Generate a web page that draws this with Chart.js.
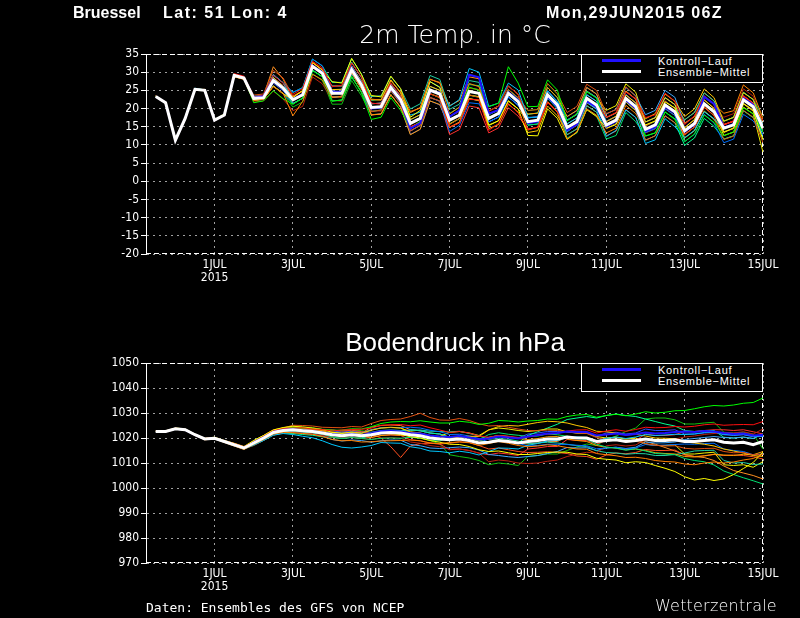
<!DOCTYPE html>
<html lang="de">
<head>
<meta charset="utf-8">
<title>Bruessel - Ensembles des GFS</title>
<script src="https://cdn.jsdelivr.net/npm/chart.js@4.4.1/dist/chart.umd.min.js"></script>
<style>
  html, body { margin: 0; padding: 0; background: #000; }
  #page { position: relative; width: 800px; height: 618px; overflow: hidden; background: #000; }
  canvas { position: absolute; left: 0; }
  .txt { position: absolute; white-space: pre; color: #fff; }
  .head { top: 5px; font: bold 16px 'Liberation Sans', Arial, sans-serif; line-height: 16px; }
  .title { left: 255px; width: 400px; text-align: center; }
  .legend { position: absolute; left: 581px; width: 180px; height: 27px; border: 1px solid #fff; background: #000; }
  .legend .bar { position: absolute; left: 20px; width: 39px; height: 3px; }
  .legend .lbl { position: absolute; left: 76px; color: #fff; font: 11px 'Liberation Sans', Arial, sans-serif; line-height: 11px; letter-spacing: 0.7px; white-space: pre; }
</style>
</head>
<body>
<div id="page">
  <canvas id="tempChart" width="800" height="300" style="top:0"></canvas>
  <canvas id="pressChart" width="800" height="300" style="top:309px"></canvas>

  <div class="txt head" style="left:73px">Bruessel</div>
  <div class="txt head" style="left:163px; letter-spacing:1.5px">Lat: 51 Lon: 4</div>
  <div class="txt head" style="left:546px; letter-spacing:1.3px">Mon,29JUN2015 06Z</div>

  <div class="txt title" style="top:22px; font:200 25px 'DejaVu Sans', sans-serif; line-height:25px">2m Temp. in °C</div>
  <div class="txt title" style="top:329px; font:26px 'Liberation Sans', Arial, sans-serif; line-height:26px">Bodendruck in hPa</div>

  <div class="legend" style="top:54px">
    <div class="bar" style="top:4px; background:#2010ff"></div><div class="lbl" style="top:1px">Kontroll−Lauf</div>
    <div class="bar" style="top:15px; background:#fff"></div><div class="lbl" style="top:12px">Ensemble−Mittel</div>
  </div>
  <div class="legend" style="top:363px">
    <div class="bar" style="top:4px; background:#2010ff"></div><div class="lbl" style="top:1px">Kontroll−Lauf</div>
    <div class="bar" style="top:15px; background:#fff"></div><div class="lbl" style="top:12px">Ensemble−Mittel</div>
  </div>

  <div class="txt" style="left:146px; top:601px; font:13px 'DejaVu Sans Mono', monospace; line-height:13px">Daten: Ensembles des GFS von NCEP</div>
  <div class="txt" style="left:655px; top:598px; font:200 16px 'DejaVu Sans', sans-serif; line-height:16px; letter-spacing:0.2px">Wetterzentrale</div>
</div>

<script>
// forecast lead time in hours after the 29JUN2015 06Z run
const leadHours = [6,12,18,24,30,36,42,48,54,60,66,72,78,84,90,96,102,108,114,120,126,132,138,144,150,156,162,168,174,180,186,192,198,204,210,216,222,228,234,240,246,252,258,264,270,276,282,288,294,300,306,312,318,324,330,336,342,348,354,360,366,372,378];

// x axis ticks (lead hours of 00Z on every second day)
const dayTicks = [42, 90, 138, 186, 234, 282, 330, 378];
const dayLabels = ['1JUL', '3JUL', '5JUL', '7JUL', '9JUL', '11JUL', '13JUL', '15JUL'];
const yearLabel = '2015';

// ---- 2m temperature (°C) ----
const tempMean = [23.3,21.6,11.3,17.3,25.3,25.0,16.8,18.2,29.1,28.4, 22.8,23.0,27.7,25.6, 22.4,23.8,31.6,29.7, 24.2,24.2,30.7,26.5, 20.3,20.5,25.8,22.4, 15.9,17.3,25.1,24.0, 16.8,18.2,24.7,24.2, 17.3,18.7,24.2,21.9, 16.4,16.8,23.8,21.0, 14.8,16.4,22.8,21.0, 15.5,16.8,22.8,20.5, 14.3,15.5,21.0,19.1, 13.9,15.9,21.3,19.1, 14.6,15.5,22.4,20.5, 14.6];
const tempControl = [23.3,21.6,11.3,17.3,25.3,25.0,16.8,18.2,29.1,28.4, 23.0,23.4,28.0,25.8, 22.6,24.0,31.8,30.0, 24.6,24.6,31.2,26.9, 20.0,20.2,25.5,22.0, 14.5,16.0,24.8,24.4, 17.8,19.5,29.3,28.6, 18.6,19.6,24.5,22.3, 16.0,16.4,23.2,20.4, 14.0,15.6,22.0,20.4, 15.0,16.5,22.3,20.0, 13.8,15.0,20.5,18.8, 13.6,15.6,23.2,21.3, 14.8,15.8,22.8,21.0, 14.8];

const t01 = [23.5,21.8,11.0,17.5,25.5,24.8,16.6,18.4,29.6,28.9, 23.3,23.6,29.2,27.0, 23.9,25.5,33.0,31.2, 26.0,26.4,32.5,28.7, 21.5,21.2,27.0,23.6, 15.0,16.1,24.0,23.2, 14.9,16.0,22.5,22.4, 14.0,15.9,21.4,18.8, 14.2,14.9,21.6,19.2, 14.6,16.0,23.1,21.3, 17.6,18.9,24.5,22.7, 17.5,18.3,24.2,22.0, 15.6,18.0,23.5,21.0, 15.4,16.7,23.6,21.3, 14.4];
const t02 = [23.1,21.4,11.6,17.0,25.0,25.3,17.0,18.0,28.8,28.0, 22.2,22.6,26.0,24.2, 18.0,22.0,29.4,27.9, 23.0,23.4,29.9,25.3, 22.6,22.3,27.6,24.6, 19.2,20.1,28.0,27.2, 18.5,20.4,26.9,26.0, 17.6,18.5,24.5,21.7, 14.1,14.9,21.9,19.0, 11.6,13.6,19.9,18.2, 13.3,14.6,20.9,18.6, 14.6,15.3,21.2,19.3, 16.0,17.7,23.4,21.2, 18.7,19.4,26.5,24.3, 17.3];
const t03 = [23.3,21.7,11.2,17.4,25.4,25.2,16.9,18.5,29.4,28.2, 22.5,23.3,28.5,26.1, 23.0,25.0,32.7,30.5, 27.4,27.0,33.8,29.4, 23.6,23.2,28.9,25.5, 17.6,19.5,27.4,25.8, 16.5,18.4,25.0,24.0, 15.5,16.6,22.0,19.9, 12.6,12.5,19.9,17.3, 11.5,13.5,19.7,17.8, 14.6,15.6,21.9,19.4, 15.5,16.6,21.8,20.2, 14.7,17.0,22.4,20.0, 13.4,14.7,21.3,19.3, 11.4];
const t04 = [23.2,21.5,11.4,17.2,25.3,24.9,16.7,18.1,28.9,28.3, 21.6,22.1,24.9,22.7, 21.2,22.9,30.5,28.8, 22.0,22.4,28.9,24.3, 17.0,17.6,23.0,19.5, 14.6,16.5,24.0,23.2, 17.7,19.4,25.9,25.0, 20.5,21.5,31.5,27.0, 20.5,20.6,27.9,25.1, 16.6,18.6,24.6,22.9, 15.2,17.0,22.6,20.7, 12.5,13.3,19.1,17.0, 10.9,13.0,18.2,16.2, 12.5,13.6,20.2,18.6, 13.5];
const t05 = [23.4,21.6,11.3,17.6,25.6,25.1,16.8,18.3,29.3,28.6, 23.4,23.5,29.4,27.0, 22.5,23.6,31.9,29.5, 23.0,23.4,29.5,25.6, 20.0,20.8,25.5,22.6, 18.2,19.0,27.4,25.9, 20.6,22.5,31.0,30.0, 20.6,21.5,27.0,25.1, 17.6,17.6,24.9,21.8, 13.6,15.6,21.7,19.8, 12.3,14.0,19.6,17.6, 10.4,11.4,17.2,15.0, 12.0,14.0,19.1,17.2, 14.5,15.7,22.2,20.6, 15.6];
const t06 = [23.2,21.6,11.5,17.2,25.2,25.1,16.9,18.0,29.0,28.6, 23.7,24.0,30.5,28.4, 23.4,24.7,32.8,30.6, 24.4,24.0,30.9,26.2, 19.1,19.6,24.9,21.3, 13.8,15.5,23.0,22.1, 15.6,17.3,23.8,23.0, 18.5,19.6,25.2,23.0, 19.5,19.7,26.9,24.1, 18.9,20.6,26.7,25.0, 18.6,19.7,26.0,23.4, 15.2,16.6,22.1,20.0, 12.7,14.9,20.5,18.0, 11.5,12.4,19.5,17.6, 10.6];
const t07 = [23.4,21.7,11.1,17.3,25.1,25.0,16.9,18.3,28.7,28.1, 22.3,22.6,26.2,24.0, 22.5,23.6,31.4,29.8, 25.2,25.3,31.6,27.4, 22.4,22.4,27.9,24.3, 17.0,18.3,26.1,25.0, 15.7,17.3,23.6,23.3, 14.5,15.6,21.2,19.0, 13.4,13.9,20.7,18.0, 13.8,15.5,21.6,20.0, 16.4,17.9,23.7,21.6, 17.2,18.6,24.0,22.0, 17.8,19.9,25.4,23.0, 16.5,17.6,24.4,22.5, 15.6];
const t08 = [23.3,21.5,11.2,17.4,25.4,24.9,16.7,18.2,29.2,28.3, 22.7,23.1,27.4,25.4, 21.2,22.9,30.4,28.8, 22.1,22.3,28.6,24.6, 19.2,19.6,24.9,21.3, 15.7,17.4,25.0,24.1, 18.7,20.3,26.6,26.3, 18.4,19.5,25.2,22.8, 15.5,15.7,22.9,19.9, 11.9,13.3,19.8,18.0, 11.6,12.6,18.9,16.4, 12.4,13.3,19.0,17.2, 13.8,15.9,21.2,19.0, 16.5,17.6,24.5,22.4, 17.6];
const t09 = [23.3,21.6,11.3,17.3,25.3,25.0,16.8,18.2,29.1,28.5, 23.2,23.5,29.2,27.1, 24.5,25.7,33.6,31.8, 25.1,25.3,31.8,27.4, 20.4,20.3,25.9,22.5, 13.8,15.4,23.0,22.0, 13.7,15.4,21.6,21.3, 16.4,17.6,23.2,20.9, 17.4,17.8,24.9,22.0, 16.9,18.4,24.7,23.1, 16.5,17.8,23.9,21.5, 13.4,14.5,19.9,18.1, 10.9,12.9,18.4,16.0, 10.6,11.6,18.4,16.6, 12.6];
const t10 = [23.2,21.4,11.0,17.1,25.2,25.0,16.6,18.1,29.3,28.2, 21.8,22.1,24.8,22.6, 19.4,20.6,28.7,26.8, 22.3,22.0,28.8,24.6, 19.4,19.3,24.8,21.5, 15.8,17.4,25.1,24.0, 17.9,19.2,25.6,25.2, 19.4,20.6,26.2,23.9, 17.5,17.7,24.8,21.9, 14.8,16.5,22.7,21.1, 14.4,15.8,21.9,19.5, 13.3,14.4,20.1,18.1, 14.8,16.9,22.3,20.2, 17.6,18.6,25.4,23.4, 16.6];
const t11 = [23.4,21.7,11.4,17.4,25.2,25.1,16.9,18.2,29.5,28.6, 22.9,23.0,27.9,25.8, 23.3,24.9,32.6,30.7, 24.0,24.4,30.6,26.6, 18.2,18.5,23.8,20.3, 12.8,14.3,22.1,21.1, 14.9,16.2,22.7,22.3, 17.3,18.7,24.2,21.8, 18.5,18.7,25.8,23.0, 17.8,19.5,25.8,24.0, 17.5,18.8,24.8,22.6, 14.3,15.4,21.0,19.1, 11.9,13.9,19.3,17.0, 13.6,14.5,21.4,19.6, 14.6];
const t12 = [23.3,21.6,11.4,17.3,25.4,25.1,16.8,18.2,28.9,28.3, 23.2,23.5,29.2,27.1, 22.4,23.9,31.6,29.8, 26.2,26.2,32.7,28.5, 23.3,23.5,28.8,25.4, 19.9,21.3,29.1,28.0, 19.8,21.2,27.7,27.2, 18.3,19.7,25.2,22.9, 15.4,15.8,22.8,20.0, 12.8,14.4,20.8,19.0, 14.5,15.8,21.8,19.5, 15.3,16.5,22.0,20.1, 16.9,18.9,24.3,22.1, 16.6,17.5,24.4,22.5, 13.6];
const t13 = [23.3,21.6,11.2,17.2,25.3,25.0,16.8,18.3,29.1,28.4, 22.3,22.5,26.2,24.1, 21.4,22.8,30.6,28.7, 24.2,24.2,30.7,26.5, 21.3,21.5,26.8,23.4, 16.9,18.3,26.1,25.0, 16.8,18.2,24.7,24.2, 16.3,17.7,23.2,20.9, 16.4,16.8,23.8,21.0, 15.8,17.4,23.8,22.0, 18.5,19.8,25.8,23.5, 18.3,19.5,25.0,23.1, 15.9,17.9,23.3,21.1, 13.6,14.5,21.4,19.5, 12.6];
const t14 = [23.2,21.6,11.5,17.4,25.3,25.1,16.7,18.3,29.2,28.5, 23.0,23.3,28.5,26.3, 23.4,24.8,32.6,30.7, 23.2,23.2,29.7,25.5, 18.3,18.5,23.8,20.4, 14.9,16.3,24.1,23.0, 17.8,19.2,25.7,25.2, 19.3,20.7,26.2,23.9, 16.4,16.8,23.8,21.0, 12.8,14.4,20.8,19.0, 12.5,13.8,19.8,17.5, 11.3,12.5,18.0,16.1, 12.9,14.9,20.3,18.1, 15.6,16.5,23.4,21.5, 16.6];
const t15 = [23.4,21.5,11.2,17.3,25.2,25.1,16.9,18.1,29.0,28.3, 22.3,22.5,26.2,24.1, 22.4,23.8,31.6,29.7, 25.2,25.2,31.7,27.5, 20.3,20.5,25.8,22.4, 14.9,16.3,24.1,23.0, 14.8,16.2,22.7,22.2, 15.3,16.7,22.2,19.9, 16.4,16.8,23.8,21.0, 16.8,18.4,24.8,23.0, 19.5,20.8,26.8,24.5, 16.3,17.5,23.0,21.1, 13.9,15.9,21.3,19.1, 12.6,13.5,20.4,18.5, 8.0];
const t16 = [23.2,21.7,11.4,17.4,25.4,24.9,16.7,18.3,29.3,28.6, 23.2,23.5,29.2,27.1, 24.4,25.8,33.6,31.7, 27.2,27.2,33.7,29.5, 22.3,22.5,27.8,24.4, 15.9,17.3,25.1,24.0, 15.8,17.2,23.7,23.2, 17.3,18.7,24.2,21.9, 18.4,18.8,25.8,23.0, 15.8,17.4,23.8,22.0, 14.5,15.8,21.8,19.5, 11.3,12.5,18.0,16.1, 9.9,11.9,17.3,15.1, 11.6,12.5,19.4,17.5, 12.6];
const t17 = [23.3,21.5,11.4,17.2,25.2,24.9,16.9,18.1,28.8,28.2, 22.6,22.8,27.0,24.9, 21.4,22.8,30.6,28.7, 22.2,22.2,28.7,24.5, 18.3,18.5,23.8,20.4, 12.9,14.3,22.1,21.0, 14.8,16.2,22.7,22.2, 16.3,17.7,23.2,20.9, 17.4,17.8,24.8,22.0, 17.8,19.4,25.8,24.0, 17.5,18.8,24.8,22.5, 16.3,17.5,23.0,21.1, 14.9,16.9,22.3,20.1, 14.6,15.5,22.4,20.5, 13.6];
const t18 = [23.2,21.7,11.2,17.4,25.4,25.1,16.7,18.3,29.4,28.7, 22.8,23.0,27.7,25.6, 23.4,24.8,32.6,30.7, 26.2,26.2,32.7,28.5, 20.3,20.5,25.8,22.4, 13.9,15.3,23.1,22.0, 12.8,14.2,20.7,20.2, 13.3,14.7,20.2,17.9, 14.4,14.8,21.8,19.0, 14.8,16.4,22.8,21.0, 16.5,17.8,23.8,21.5, 14.3,15.5,21.0,19.1, 12.9,14.9,20.3,18.1, 15.6,16.5,23.4,21.5, 16.6];
const t19 = [23.4,21.6,11.5,17.3,25.1,25.2,16.8,18.2,29.2,28.5, 23.3,23.5,31.5,28.1, 22.4,23.8,31.6,29.7, 23.2,23.2,29.7,25.5, 21.3,21.5,26.8,23.4, 18.9,20.3,28.1,27.0, 20.8,22.2,28.7,28.2, 19.3,20.7,26.2,23.9, 16.4,16.8,23.8,21.0, 13.8,15.4,21.8,20.0, 15.5,16.8,22.8,20.5, 16.3,17.5,23.0,21.1, 16.9,18.9,24.3,22.1, 15.6,16.5,23.4,21.5, 13.6];
const t20 = [23.3,21.5,11.1,17.2,25.5,24.8,17.0,18.4,28.9,28.1, 22.3,22.5,26.2,24.1, 20.4,21.8,29.6,27.7, 21.2,21.2,27.7,23.5, 18.3,18.5,23.8,20.4, 13.9,15.3,23.1,22.0, 15.8,17.2,23.7,23.2, 18.3,19.7,25.2,22.9, 19.4,19.8,26.8,24.0, 16.8,18.4,24.8,23.0, 16.5,17.8,23.8,21.5, 13.3,14.5,20.0,18.1, 11.9,13.9,19.3,17.1, 11.6,12.5,19.4,17.5, 11.6];

// ---- surface pressure (hPa) ----
const pressMean = [1022.6,1022.6,1023.7,1023.3,1021.3,1019.6,1019.9,1018.6,1017.3,1016.0, 1018.0,1020.0,1022.2,1023.0, 1023.3,1022.9,1022.6,1022.0, 1021.3,1020.9,1021.3,1020.9, 1021.3,1022.0,1022.2,1022.0, 1021.3,1020.9,1020.0,1019.6, 1019.3,1019.6,1019.0,1018.0, 1018.3,1019.0,1018.6,1018.0, 1018.6,1019.0,1019.6,1019.6, 1020.4,1020.0,1020.0,1018.6, 1019.0,1019.3,1018.6,1019.0, 1019.6,1019.0,1019.0,1019.3, 1018.6,1018.6,1019.0,1019.3, 1018.3,1018.0,1018.3,1017.3, 1018.6];
const pressControl = [1022.6,1022.6,1023.7,1023.3,1021.3,1019.6,1019.9,1018.6,1017.3,1016.0, 1018.2,1020.2,1022.4,1023.2, 1023.5,1023.1,1022.8,1022.2, 1021.6,1021.2,1021.6,1021.2, 1021.8,1022.6,1022.8,1022.6, 1022.0,1021.8,1021.0,1020.6, 1020.4,1020.8,1020.2,1019.4, 1019.8,1020.6,1020.2,1019.8, 1020.6,1021.2,1021.8,1022.0, 1022.6,1022.4,1022.4,1021.0, 1021.4,1021.8,1021.2,1021.6, 1022.2,1021.8,1022.0,1022.4, 1022.6,1022.4,1022.8,1022.6, 1022.0,1021.6,1021.8,1021.0, 1021.2];

const p01 = [1022.5,1022.8,1023.9,1023.4,1021.5,1019.8,1020.1,1018.9,1017.8,1016.5, 1018.4,1020.6,1022.8,1023.7, 1024.0,1024.1,1023.6,1023.4, 1022.8,1023.2,1023.4,1023.5, 1023.9,1025.1,1025.3,1025.4, 1024.9,1025.2,1024.1,1023.2, 1022.2,1022.6,1022.0,1020.8, 1020.3,1021.0,1020.7,1020.2, 1020.4,1021.1,1021.6,1021.8, 1022.8,1023.2,1023.3,1022.0, 1022.8,1023.3,1022.7,1023.4, 1024.3,1024.1,1024.2,1024.6, 1024.4,1024.7,1025.3,1025.6, 1025.1,1025.3,1025.4,1025.3, 1026.6];
const p02 = [1022.7,1022.4,1023.5,1023.1,1021.0,1019.3,1019.6,1018.2,1016.8,1015.4, 1017.5,1019.4,1021.6,1022.3, 1022.1,1021.8,1021.5,1020.6, 1019.4,1018.9,1019.0,1018.4, 1018.5,1018.8,1018.9,1019.0, 1019.2,1018.9,1018.0,1017.8, 1018.2,1018.4,1018.1,1017.0, 1017.8,1018.6,1017.9,1017.0, 1016.5,1016.8,1017.3,1016.9, 1016.2,1015.6,1015.5,1013.8, 1013.3,1012.9,1012.2,1012.3, 1011.8,1011.0,1010.6,1010.4, 1009.6,1009.3,1010.0,1010.4, 1010.0,1010.4,1011.2,1011.8, 1013.5];
const p03 = [1022.8,1022.9,1024.0,1023.6,1021.6,1019.9,1020.3,1019.0,1017.9,1016.6, 1019.0,1021.0,1023.2,1024.2, 1024.7,1024.4,1024.0,1023.4, 1022.3,1021.8,1022.0,1021.6, 1021.2,1022.0,1021.9,1021.4, 1020.5,1020.0,1019.0,1018.3, 1017.5,1017.4,1016.6,1015.3, 1014.6,1014.8,1014.1,1013.4, 1013.4,1013.8,1014.2,1014.4, 1014.3,1013.6,1013.4,1011.9, 1011.5,1011.2,1010.1,1010.5, 1010.2,1009.0,1007.9,1006.6, 1004.5,1003.2,1003.8,1003.0, 1003.6,1005.4,1007.8,1010.2, 1014.4];
const p04 = [1022.6,1022.6,1023.8,1023.4,1021.3,1019.6,1020.0,1018.6,1017.5,1016.2, 1018.2,1020.3,1022.6,1023.6, 1024.2,1024.0,1023.8,1023.4, 1022.9,1023.2,1023.7,1023.6, 1024.5,1025.8,1026.4,1026.6, 1026.5,1026.9,1026.4,1026.0, 1026.0,1026.7,1026.3,1025.4, 1025.9,1027.0,1026.8,1026.4, 1026.8,1027.0,1027.6,1027.5, 1028.6,1029.2,1029.4,1028.3, 1029.0,1029.5,1028.9,1029.6, 1030.5,1030.0,1030.3,1030.9, 1031.0,1031.7,1032.5,1033.0, 1032.8,1033.2,1033.9,1034.2, 1036.0];
const p05 = [1022.5,1022.5,1023.6,1023.1,1021.1,1019.4,1019.6,1018.3,1016.9,1015.5, 1017.2,1019.0,1021.1,1021.8, 1021.4,1020.7,1020.1,1018.9, 1017.4,1016.3,1016.0,1016.4, 1017.0,1018.2,1018.0,1017.9, 1016.5,1015.9,1014.8,1014.6, 1014.1,1014.7,1014.2,1013.2, 1014.6,1016.0,1015.9,1015.6, 1017.1,1017.8,1018.8,1019.0, 1020.2,1020.4,1020.2,1018.8, 1019.9,1020.4,1019.8,1020.4, 1021.4,1021.0,1021.2,1021.5, 1021.4,1021.6,1022.2,1022.4, 1021.5,1021.2,1021.4,1020.7, 1020.8];
const p06 = [1022.7,1022.8,1023.9,1023.5,1021.5,1019.8,1020.1,1018.8,1017.6,1016.4, 1018.8,1021.0,1023.3,1024.0, 1025.1,1025.0,1024.8,1024.3, 1024.2,1024.1,1024.6,1024.4, 1025.8,1027.0,1027.4,1027.6, 1028.6,1029.9,1028.2,1027.2, 1027.1,1027.8,1027.0,1025.7, 1024.8,1025.0,1024.3,1023.6, 1023.0,1022.9,1023.2,1023.0, 1022.6,1022.0,1021.8,1020.2, 1019.3,1019.0,1018.4,1018.7, 1017.8,1017.1,1016.8,1016.9, 1015.9,1015.6,1015.8,1015.9, 1014.6,1014.1,1014.2,1013.3, 1013.6];
const p07 = [1022.6,1022.7,1023.6,1023.3,1021.4,1019.7,1019.8,1018.5,1017.2,1016.0, 1018.1,1020.0,1022.3,1023.1, 1023.7,1023.4,1023.2,1022.5, 1022.2,1021.9,1022.4,1022.0, 1023.1,1024.0,1024.3,1024.0, 1022.5,1022.0,1020.9,1020.4, 1019.6,1020.5,1020.7,1020.6, 1023.2,1024.6,1025.0,1024.8, 1025.5,1026.2,1026.7,1026.5, 1026.0,1025.0,1024.2,1022.7, 1022.5,1022.0,1021.2,1021.5, 1020.8,1020.0,1019.9,1019.7, 1018.4,1018.0,1017.5,1016.8, 1015.6,1014.8,1014.0,1013.0, 1012.6];
const p08 = [1022.5,1022.6,1023.5,1023.2,1021.1,1019.5,1019.8,1018.4,1017.0,1015.6, 1017.4,1019.6,1021.7,1022.5, 1023.4,1022.8,1022.7,1021.8, 1020.4,1019.8,1020.2,1019.8, 1019.4,1019.9,1020.0,1019.9, 1020.3,1020.0,1019.1,1018.8, 1020.2,1020.8,1020.2,1019.3, 1021.4,1022.1,1021.5,1021.1, 1020.6,1020.8,1021.6,1021.3, 1020.7,1019.8,1019.5,1017.5, 1016.4,1015.9,1015.1,1015.7, 1014.8,1013.8,1013.6,1013.3, 1011.8,1011.0,1010.5,1009.2, 1006.8,1005.4,1004.1,1002.9, 1001.6];
const p09 = [1022.6,1022.5,1023.7,1023.4,1021.2,1019.6,1019.9,1018.6,1017.4,1016.1, 1018.5,1020.4,1022.7,1023.5, 1023.2,1023.0,1022.7,1022.1, 1022.2,1022.0,1022.4,1022.0, 1023.3,1024.1,1024.2,1024.2, 1024.3,1024.0,1023.1,1022.5, 1021.4,1021.5,1020.8,1019.8, 1018.4,1019.0,1018.5,1017.9, 1016.8,1017.0,1017.5,1017.5, 1017.4,1017.1,1016.9,1015.7, 1016.0,1016.3,1015.6,1016.0, 1017.4,1017.0,1017.2,1017.4, 1017.6,1017.5,1017.8,1017.9, 1015.6,1015.0,1014.6,1013.3, 1013.6];
const p10 = [1022.4,1022.5,1023.6,1023.1,1021.2,1019.4,1019.7,1018.4,1017.0,1015.6, 1017.0,1019.0,1021.2,1022.0, 1022.3,1021.8,1021.6,1021.0, 1020.3,1019.9,1020.3,1019.8, 1019.5,1020.0,1020.1,1019.9, 1018.4,1017.9,1017.0,1016.5, 1015.5,1015.6,1015.0,1013.9, 1010.5,1011.2,1010.8,1010.0, 1009.8,1010.0,1010.7,1011.2, 1012.6,1013.5,1014.3,1014.0, 1016.9,1017.3,1016.8,1017.2, 1019.4,1019.0,1019.3,1019.6, 1020.4,1020.8,1021.4,1021.8, 1022.2,1022.0,1022.5,1021.6, 1023.6];
const p11 = [1022.7,1022.6,1023.8,1023.3,1021.4,1019.7,1019.9,1018.7,1017.5,1016.2, 1018.5,1020.5,1022.6,1023.5, 1024.3,1024.0,1023.6,1023.0, 1021.5,1021.0,1021.2,1020.9, 1020.2,1021.0,1021.3,1021.1, 1021.2,1021.0,1020.1,1019.8, 1020.1,1020.6,1020.1,1019.1, 1020.2,1021.0,1020.6,1019.8, 1019.4,1019.8,1020.5,1020.6, 1019.6,1019.0,1018.6,1017.0, 1016.3,1016.0,1015.3,1015.6, 1015.0,1014.1,1013.8,1013.6, 1012.6,1012.4,1012.9,1013.5, 1013.2,1013.0,1013.5,1013.3, 1014.6];
const p12 = [1022.6,1022.6,1023.7,1023.3,1021.3,1019.5,1019.9,1018.5,1017.3,1016.0, 1018.0,1020.0,1022.2,1023.0, 1022.8,1022.4,1022.0,1021.4, 1020.3,1019.8,1020.3,1020.0, 1021.0,1022.4,1022.9,1023.0, 1023.0,1023.2,1022.7,1022.6, 1022.4,1022.7,1021.8,1020.8, 1019.5,1019.8,1019.5,1018.8, 1017.8,1018.0,1018.3,1018.0, 1017.5,1016.9,1016.6,1014.9, 1014.2,1014.0,1013.5,1013.8, 1013.7,1013.0,1013.0,1013.4, 1014.0,1014.8,1015.0,1015.1, 1011.0,1010.0,1010.2,1009.4, 1009.6];
const p13 = [1022.5,1022.6,1023.6,1023.2,1021.3,1019.6,1019.8,1018.5,1017.1,1015.8, 1017.4,1019.5,1021.7,1022.5, 1022.4,1021.9,1021.5,1020.9, 1019.4,1018.8,1019.2,1019.0, 1018.3,1018.9,1019.2,1019.1, 1017.4,1016.9,1016.0,1015.8, 1016.1,1016.4,1016.1,1015.2, 1013.4,1013.0,1012.5,1012.2, 1012.6,1013.0,1013.8,1014.6, 1016.2,1016.0,1016.1,1015.0, 1016.0,1016.3,1015.8,1016.3, 1018.4,1018.0,1018.1,1018.4, 1019.4,1019.8,1020.2,1020.6, 1020.2,1020.0,1020.4,1019.8, 1021.6];
const p14 = [1022.7,1022.7,1023.8,1023.4,1021.5,1019.7,1020.0,1018.8,1017.5,1016.3, 1018.8,1020.8,1023.0,1023.9, 1024.2,1023.9,1023.5,1022.9, 1023.2,1022.8,1023.1,1022.6, 1021.6,1020.0,1016.5,1012.2, 1016.8,1017.8,1017.9,1017.6, 1017.9,1018.5,1018.2,1017.0, 1015.6,1016.0,1015.3,1014.6, 1014.2,1014.3,1014.5,1014.2, 1013.8,1012.8,1012.6,1011.5, 1013.2,1014.0,1013.7,1014.2, 1015.4,1015.0,1015.0,1015.2, 1013.2,1012.6,1012.8,1013.4, 1013.0,1013.2,1013.0,1012.5, 1011.6];
const p15 = [1022.6,1022.7,1023.6,1023.3,1021.4,1019.6,1019.9,1018.6,1017.2,1016.0, 1018.0,1020.0,1022.2,1023.0, 1023.3,1022.9,1022.6,1022.0, 1022.3,1021.9,1022.3,1021.9, 1023.3,1024.0,1024.2,1024.0, 1022.3,1021.9,1021.0,1020.6, 1022.3,1022.6,1022.0,1021.0, 1023.3,1024.0,1023.6,1023.0, 1022.6,1023.0,1023.6,1023.6, 1022.4,1022.0,1022.0,1020.6, 1020.0,1020.3,1019.6,1020.0, 1017.6,1017.0,1017.0,1017.3, 1013.6,1013.6,1014.0,1014.3, 1009.3,1009.0,1009.3,1008.3, 1010.6];
const p16 = [1022.5,1022.5,1023.6,1023.2,1021.2,1019.5,1019.8,1018.5,1017.1,1015.8, 1017.0,1019.0,1021.2,1022.0, 1021.8,1021.4,1021.1,1020.5, 1020.3,1019.9,1020.3,1019.9, 1021.3,1022.0,1022.2,1022.0, 1023.3,1022.9,1022.0,1021.6, 1020.3,1020.6,1020.0,1019.0, 1018.3,1019.0,1018.6,1018.0, 1021.0,1022.5,1024.0,1025.5, 1027.4,1028.0,1028.6,1028.0, 1029.0,1029.6,1029.0,1028.6, 1027.6,1026.6,1025.6,1024.8, 1023.0,1022.6,1022.8,1023.0, 1020.3,1020.0,1020.3,1019.8, 1021.6];
const p17 = [1022.6,1022.7,1023.7,1023.3,1021.3,1019.6,1019.9,1018.6,1017.3,1016.1, 1018.5,1020.5,1022.7,1023.5, 1024.3,1023.9,1023.6,1023.0, 1022.8,1022.4,1022.8,1022.4, 1022.3,1023.0,1023.2,1023.0, 1023.3,1022.9,1022.0,1021.6, 1020.3,1020.6,1020.0,1019.0, 1020.3,1021.0,1020.6,1020.0, 1021.6,1022.0,1022.6,1022.6, 1022.4,1022.0,1022.0,1020.6, 1022.0,1022.3,1021.6,1022.0, 1023.6,1023.0,1023.0,1023.3, 1021.6,1021.6,1022.0,1022.3, 1021.3,1021.0,1021.3,1020.5, 1020.6];
const p18 = [1022.6,1022.5,1023.7,1023.2,1021.3,1019.6,1019.8,1018.6,1017.3,1016.0, 1018.0,1020.0,1022.2,1023.0, 1022.8,1022.4,1022.1,1021.5, 1020.3,1019.9,1020.3,1019.9, 1020.3,1021.0,1021.2,1021.0, 1019.3,1018.9,1018.0,1017.6, 1015.3,1015.6,1015.0,1014.0, 1013.3,1014.0,1013.6,1013.0, 1015.6,1016.0,1016.6,1016.6, 1019.4,1019.0,1019.0,1017.6, 1019.0,1019.3,1018.6,1019.0, 1021.6,1021.0,1021.0,1021.3, 1022.6,1022.6,1023.0,1023.3, 1023.3,1023.0,1023.3,1022.5, 1021.6];
const p19 = [1022.6,1022.5,1023.6,1023.2,1021.2,1019.5,1019.8,1018.5,1017.1,1015.9, 1017.5,1019.5,1021.7,1022.5, 1023.3,1022.9,1022.6,1022.0, 1022.3,1021.9,1022.3,1021.9, 1024.3,1025.0,1025.2,1025.0, 1023.3,1022.9,1022.0,1021.6, 1020.3,1020.6,1020.0,1019.0, 1018.3,1019.0,1018.6,1018.0, 1017.6,1018.0,1018.6,1018.6, 1020.4,1020.0,1020.0,1018.6, 1020.0,1020.3,1019.6,1020.0, 1018.6,1017.5,1016.2,1014.8, 1013.4,1012.6,1012.2,1011.0, 1008.8,1007.0,1006.0,1005.0, 1003.6];
const p20 = [1022.7,1022.7,1023.8,1023.4,1021.4,1019.7,1020.0,1018.7,1017.4,1016.1, 1019.0,1021.0,1023.2,1024.0, 1024.8,1024.4,1024.1,1023.5, 1023.3,1022.9,1023.3,1022.9, 1022.3,1023.0,1023.2,1023.0, 1020.3,1019.9,1019.0,1017.6, 1013.3,1012.6,1012.0,1011.0, 1009.3,1010.0,1009.6,1009.0, 1012.6,1013.0,1013.6,1013.6, 1015.0,1016.4,1017.6,1017.0, 1019.5,1020.8,1022.6,1024.0, 1027.6,1028.0,1028.0,1027.3, 1025.6,1025.6,1026.0,1026.3, 1022.3,1022.0,1022.3,1021.5, 1015.6];

const tempMembers = [t01,t02,t03,t04,t05,t06,t07,t08,t09,t10,t11,t12,t13,t14,t15,t16,t17,t18,t19,t20];
const pressMembers = [p01,p02,p03,p04,p05,p06,p07,p08,p09,p10,p11,p12,p13,p14,p15,p16,p17,p18,p19,p20];
const memberColors = ['#ff1010','#ff8000','#ffff00','#00ff00','#00c8ff','#e05010','#ffc800','#00e070','#0070ff','#b82010',
                      '#ffa000','#20d0a0','#40a8ff','#ff5020','#f0f000','#00ff90','#3050ff','#ff3030','#ff9020','#10c010'];

Chart.defaults.color = '#ffffff';
const tickFont = { family: "'Liberation Sans Narrow', 'DejaVu Sans Condensed', 'Liberation Sans', sans-serif", size: 12, lineHeight: 1.1 };

function toPoints(values) {
  return values.map((v, i) => ({ x: leadHours[i], y: v }));
}

// first dataset is painted last, so the mean sits on top
function buildDatasets(mean, control, members) {
  const sets = [
    { label: 'Ensemble-Mittel', data: toPoints(mean), borderColor: '#ffffff', borderWidth: 3 },
    { label: 'Kontroll-Lauf', data: toPoints(control), borderColor: '#2010ff', borderWidth: 2 }
  ];
  members.forEach((m, i) => {
    sets.push({ label: 'Member ' + (i + 1), data: toPoints(m), borderColor: memberColors[i], borderWidth: 1 });
  });
  return sets;
}

// dashed white frame on top, bottom and right of the plot
const framePlugin = {
  id: 'frame',
  beforeDatasetsDraw(chart) {
    const { ctx, chartArea: a } = chart;
    ctx.save();
    ctx.strokeStyle = '#ffffff';
    ctx.lineWidth = 1;
    ctx.setLineDash([5, 3]);
    ctx.beginPath();
    ctx.moveTo(a.left, a.top + 0.5); ctx.lineTo(a.right, a.top + 0.5);
    ctx.moveTo(a.left, a.bottom - 0.5); ctx.lineTo(a.right, a.bottom - 0.5);
    ctx.moveTo(a.right - 0.5, a.top); ctx.lineTo(a.right - 0.5, a.bottom);
    ctx.stroke();
    ctx.restore();
  }
};

function chartOptions(yMin, yMax, yStep) {
  return {
    responsive: false,
    animation: false,
    events: [],
    layout: { padding: { top: 54, right: 37, bottom: 0, left: 0 } },
    elements: { point: { radius: 0 }, line: { tension: 0, fill: false } },
    plugins: { legend: { display: false }, tooltip: { enabled: false } },
    scales: {
      x: {
        type: 'linear',
        min: 0,
        max: 378,
        afterBuildTicks: s => { s.ticks = dayTicks.map(v => ({ value: v })); },
        afterFit: s => { s.height = 46; },
        grid: { color: '#a0a0a0', drawTicks: false },
        border: { display: false, dash: [2, 4] },
        ticks: {
          autoSkip: false,
          maxRotation: 0,
          padding: 4,
          font: tickFont,
          callback: (v, i) => i === 0 ? [dayLabels[0], yearLabel] : dayLabels[i]
        }
      },
      y: {
        min: yMin,
        max: yMax,
        afterFit: s => { s.width = 146; },
        grid: { color: '#a0a0a0', tickColor: '#ffffff', tickLength: 5, tickBorderDash: [] },
        border: { display: true, color: '#ffffff', dash: [2, 4] },
        ticks: { stepSize: yStep, padding: 2, font: tickFont, callback: v => String(v) }
      }
    }
  };
}

new Chart(document.getElementById('tempChart'), {
  type: 'line',
  data: { datasets: buildDatasets(tempMean, tempControl, tempMembers) },
  options: chartOptions(-20, 35, 5),
  plugins: [framePlugin]
});

new Chart(document.getElementById('pressChart'), {
  type: 'line',
  data: { datasets: buildDatasets(pressMean, pressControl, pressMembers) },
  options: chartOptions(970, 1050, 10),
  plugins: [framePlugin]
});
</script>
</body>
</html>
